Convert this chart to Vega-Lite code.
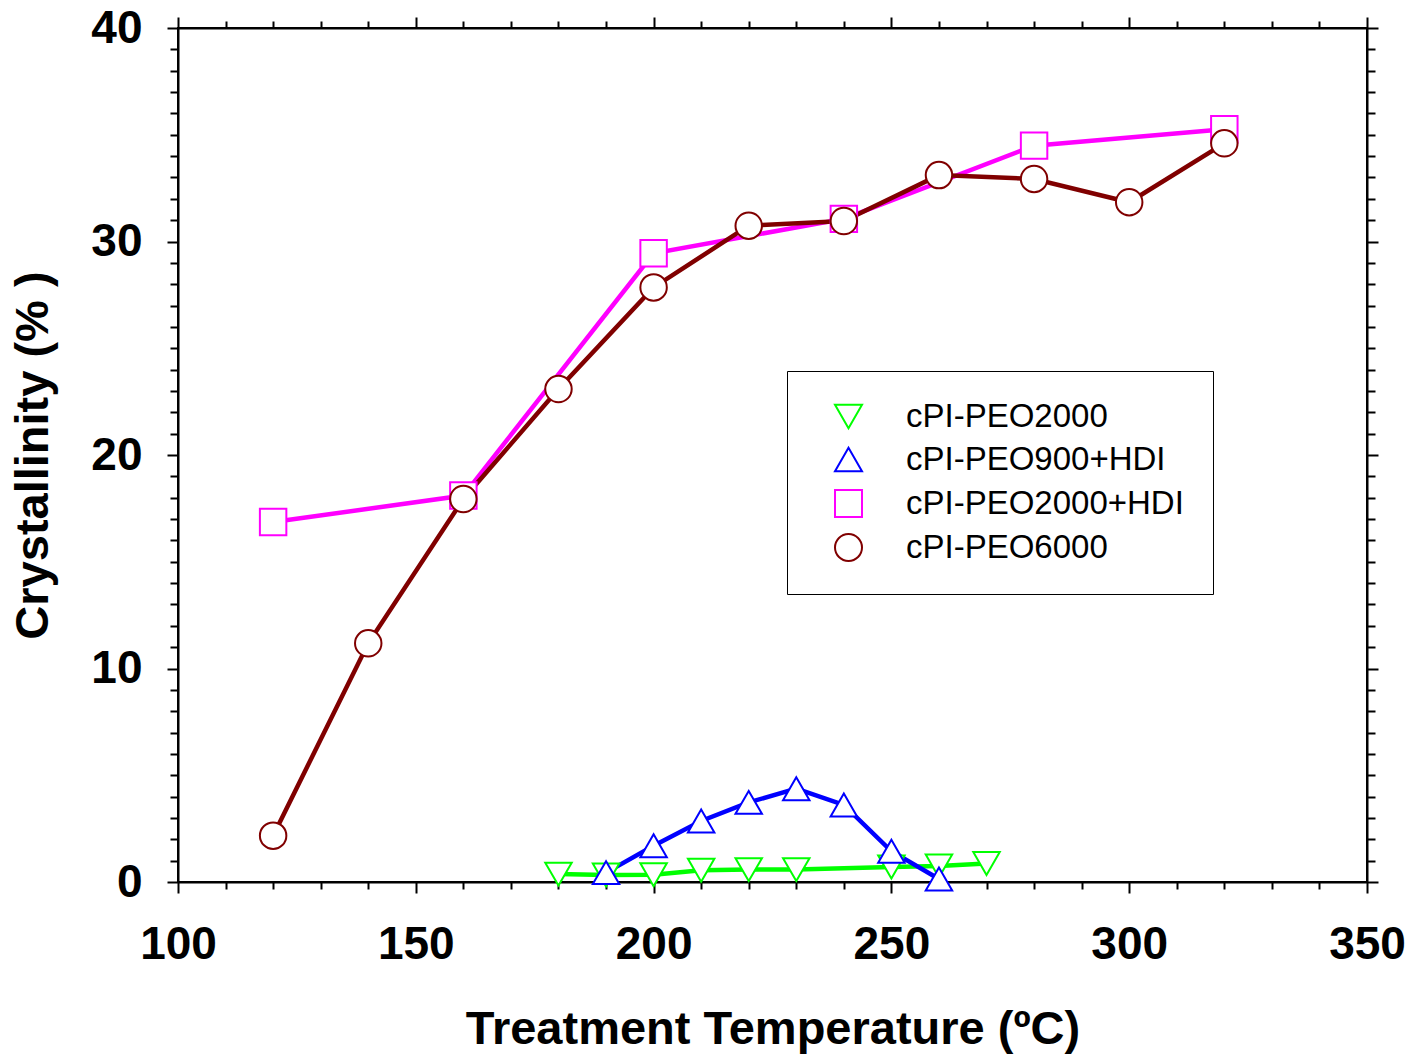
{
  "$schema": "https://vega.github.io/schema/vega-lite/v6.json",
  "width": 1189,
  "height": 854,
  "autosize": {"type": "none"},
  "padding": {"left": 178, "top": 28, "right": 43, "bottom": 172},
  "background": "white",
  "config": {
    "view": {"stroke": "black", "strokeWidth": 2},
    "axis": {
      "domainColor": "black", "domainWidth": 2, "tickColor": "black", "tickWidth": 2,
      "grid": false, "labelFont": "Liberation Sans", "labelFontWeight": "bold", "labelFontSize": 46,
      "labelColor": "black", "titleFont": "Liberation Sans", "titleFontWeight": "bold",
      "titleFontSize": 47, "titleColor": "black", "labelFlush": false, "labelOverlap": false
    }
  },
  "data": {"values": [
    {"series": "cPI-PEO2000", "temp": 180, "cryst": 0.37},
    {"series": "cPI-PEO2000", "temp": 190, "cryst": 0.33},
    {"series": "cPI-PEO2000", "temp": 200, "cryst": 0.34},
    {"series": "cPI-PEO2000", "temp": 210, "cryst": 0.55},
    {"series": "cPI-PEO2000", "temp": 220, "cryst": 0.58},
    {"series": "cPI-PEO2000", "temp": 230, "cryst": 0.58},
    {"series": "cPI-PEO2000", "temp": 250, "cryst": 0.7},
    {"series": "cPI-PEO2000", "temp": 260, "cryst": 0.75},
    {"series": "cPI-PEO2000", "temp": 270, "cryst": 0.87},
    {"series": "cPI-PEO900+HDI", "temp": 190, "cryst": 0.44},
    {"series": "cPI-PEO900+HDI", "temp": 200, "cryst": 1.7},
    {"series": "cPI-PEO900+HDI", "temp": 210, "cryst": 2.86},
    {"series": "cPI-PEO900+HDI", "temp": 220, "cryst": 3.73},
    {"series": "cPI-PEO900+HDI", "temp": 230, "cryst": 4.37},
    {"series": "cPI-PEO900+HDI", "temp": 240, "cryst": 3.61},
    {"series": "cPI-PEO900+HDI", "temp": 250, "cryst": 1.44},
    {"series": "cPI-PEO900+HDI", "temp": 260, "cryst": 0.14},
    {"series": "cPI-PEO2000+HDI", "temp": 120, "cryst": 16.86},
    {"series": "cPI-PEO2000+HDI", "temp": 160, "cryst": 18.1},
    {"series": "cPI-PEO2000+HDI", "temp": 200, "cryst": 29.45},
    {"series": "cPI-PEO2000+HDI", "temp": 240, "cryst": 31.06},
    {"series": "cPI-PEO2000+HDI", "temp": 280, "cryst": 34.49},
    {"series": "cPI-PEO2000+HDI", "temp": 320, "cryst": 35.26},
    {"series": "cPI-PEO6000", "temp": 120, "cryst": 2.17},
    {"series": "cPI-PEO6000", "temp": 140, "cryst": 11.18},
    {"series": "cPI-PEO6000", "temp": 160, "cryst": 17.94},
    {"series": "cPI-PEO6000", "temp": 180, "cryst": 23.09},
    {"series": "cPI-PEO6000", "temp": 200, "cryst": 27.85},
    {"series": "cPI-PEO6000", "temp": 220, "cryst": 30.74},
    {"series": "cPI-PEO6000", "temp": 240, "cryst": 30.96},
    {"series": "cPI-PEO6000", "temp": 260, "cryst": 33.11},
    {"series": "cPI-PEO6000", "temp": 280, "cryst": 32.93},
    {"series": "cPI-PEO6000", "temp": 300, "cryst": 31.84},
    {"series": "cPI-PEO6000", "temp": 320, "cryst": 34.6}
  ]},
  "resolve": {"axis": {"x": "independent", "y": "independent"}},
  "layer": [
    {
      "mark": {"type": "line", "strokeWidth": 4.5, "clip": false},
      "encoding": {
        "x": {"field": "temp", "type": "quantitative",
          "scale": {"domain": [100, 350], "nice": false, "zero": false},
          "axis": {"orient": "bottom", "title": "Treatment Temperature (ºC)",
            "values": [100,110,120,130,140,150,160,170,180,190,200,210,220,230,240,250,260,270,280,290,300,310,320,330,340,350],
            "labelExpr": "datum.value % 50 === 0 ? datum.label : ''",
            "tickSize": {"condition": {"test": "datum.value % 50 === 0", "value": 11}, "value": 7},
            "labelPadding": 29, "titlePadding": 39}},
        "y": {"field": "cryst", "type": "quantitative",
          "scale": {"domain": [0, 40], "nice": false},
          "axis": {"orient": "left", "title": "Crystallinity (% )",
            "values": [0,1,2,3,4,5,6,7,8,9,10,11,12,13,14,15,16,17,18,19,20,21,22,23,24,25,26,27,28,29,30,31,32,33,34,35,36,37,38,39,40],
            "labelExpr": "datum.value % 10 === 0 ? datum.label : ''",
            "tickSize": {"condition": {"test": "datum.value % 10 === 0", "value": 11}, "value": 8},
            "labelPadding": 25, "titlePadding": 33}},
        "color": {"field": "series", "type": "nominal",
          "scale": {"domain": ["cPI-PEO2000", "cPI-PEO900+HDI", "cPI-PEO2000+HDI", "cPI-PEO6000"],
                    "range": ["#00ff00", "#0000ff", "#ff00ff", "#800000"]},
          "legend": {"title": null, "orient": "none", "legendX": 609, "legendY": 343,
            "strokeColor": "black", "padding": 29, "fillColor": "white",
            "symbolSize": 729, "symbolStrokeWidth": 2, "symbolOffset": 16, "labelOffset": 41,
            "labelFont": "Liberation Sans", "labelFontSize": 33, "labelColor": "black",
            "rowPadding": 9, "labelLimit": 400}}
      }
    },
    {
      "mark": {"type": "point", "filled": false, "fill": "white", "strokeWidth": 2, "opacity": 1, "clip": false, "size": 700},
      "encoding": {
        "x": {"field": "temp", "type": "quantitative",
          "axis": {"orient": "top", "title": null, "labels": false,
            "values": [100,110,120,130,140,150,160,170,180,190,200,210,220,230,240,250,260,270,280,290,300,310,320,330,340,350],
            "tickSize": {"condition": {"test": "datum.value % 50 === 0", "value": 11}, "value": 7}}},
        "y": {"field": "cryst", "type": "quantitative",
          "axis": {"orient": "right", "title": null, "labels": false,
            "values": [0,1,2,3,4,5,6,7,8,9,10,11,12,13,14,15,16,17,18,19,20,21,22,23,24,25,26,27,28,29,30,31,32,33,34,35,36,37,38,39,40],
            "tickSize": {"condition": {"test": "datum.value % 10 === 0", "value": 11}, "value": 8}}},
        "shape": {"field": "series", "type": "nominal",
          "scale": {"domain": ["cPI-PEO2000", "cPI-PEO900+HDI", "cPI-PEO2000+HDI", "cPI-PEO6000"],
                    "range": ["triangle-down", "triangle-up", "square", "circle"]},
          "legend": {"title": null, "orient": "none", "legendX": 609, "legendY": 343,
            "strokeColor": "black", "padding": 29, "fillColor": "white",
            "symbolSize": 729, "symbolStrokeWidth": 2, "symbolOffset": 16, "labelOffset": 41,
            "labelFont": "Liberation Sans", "labelFontSize": 33, "labelColor": "black",
            "rowPadding": 9, "labelLimit": 400}},
        "color": {"field": "series", "type": "nominal",
          "legend": {"title": null, "orient": "none", "legendX": 609, "legendY": 343,
            "strokeColor": "black", "padding": 29, "fillColor": "white",
            "symbolSize": 729, "symbolStrokeWidth": 2, "symbolOffset": 16, "labelOffset": 41,
            "labelFont": "Liberation Sans", "labelFontSize": 33, "labelColor": "black",
            "rowPadding": 9, "labelLimit": 400}}
      }
    }
  ]
}
